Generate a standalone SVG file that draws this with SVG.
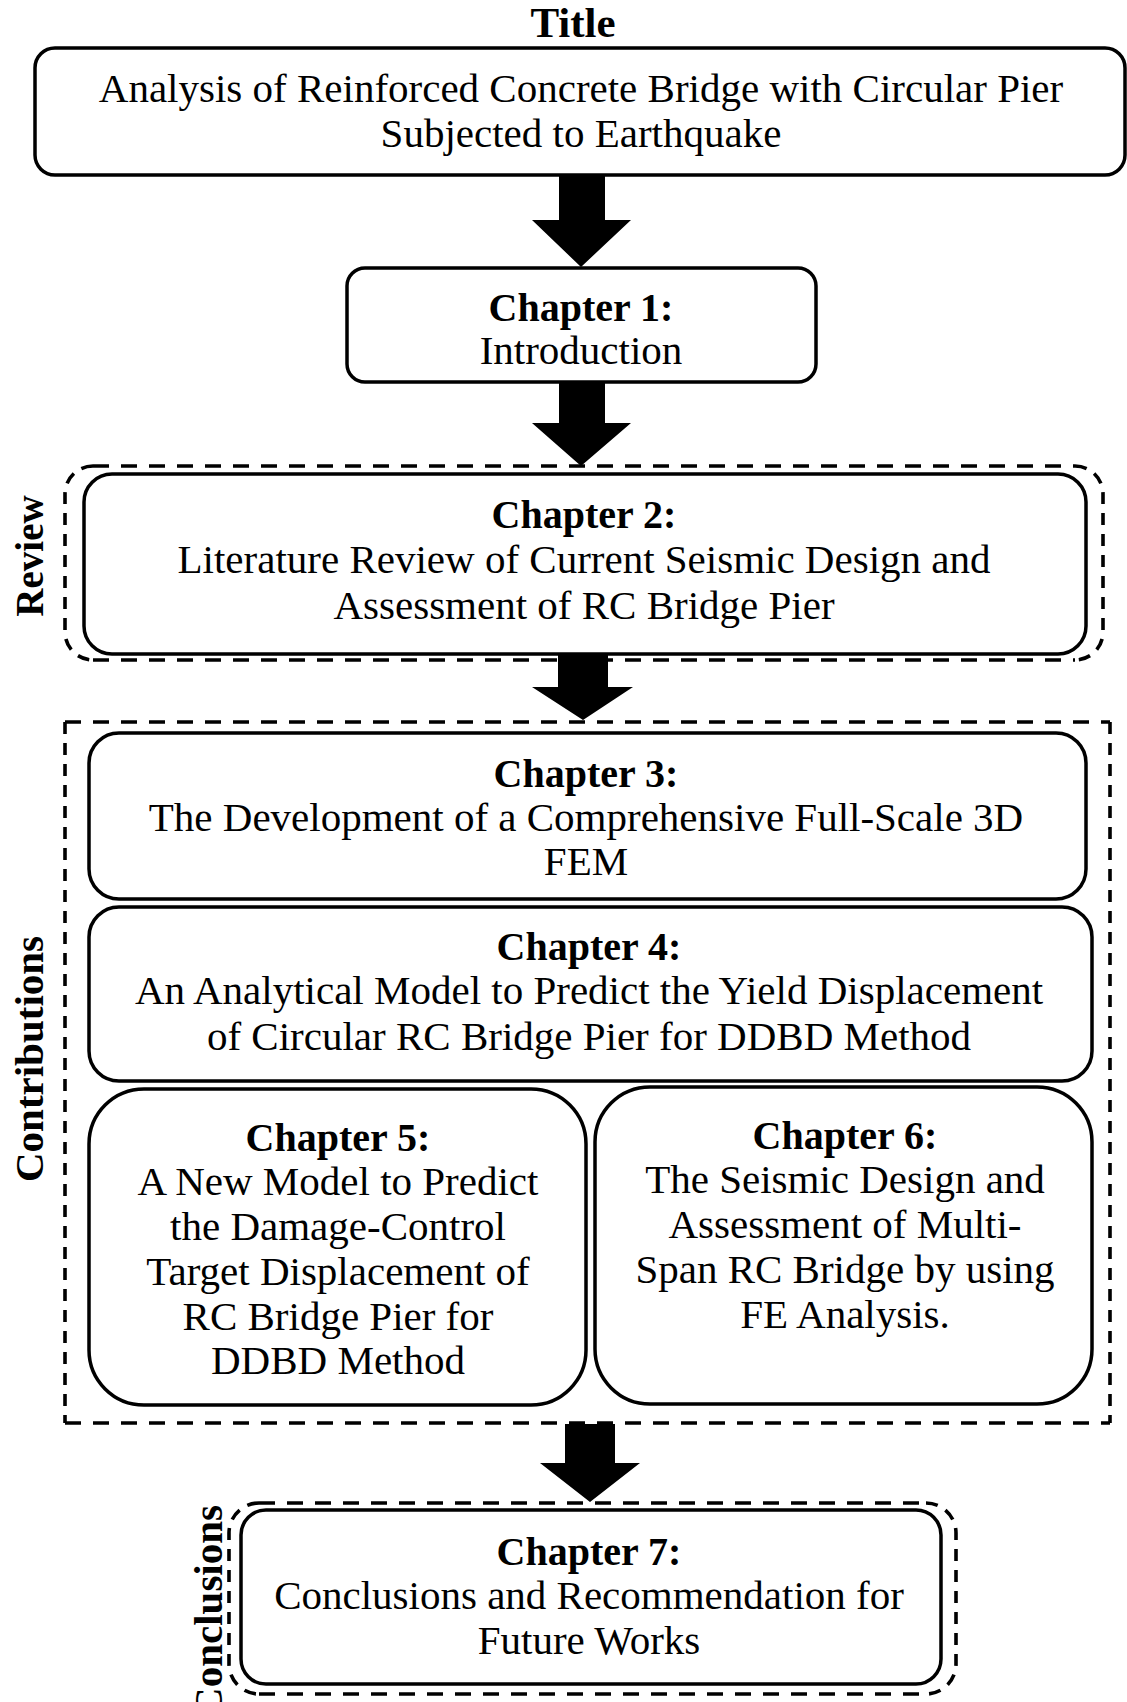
<svg xmlns="http://www.w3.org/2000/svg" width="1127" height="1702" viewBox="0 0 1127 1702">
<style>
.box{fill:#fff;stroke:#000;stroke-width:3.5}
.dh{fill:none;stroke:#000;stroke-width:3.6;stroke-dasharray:16 12}
.dv{fill:none;stroke:#000;stroke-width:3.6;stroke-dasharray:12 9}
.t{font-family:"Liberation Serif","Times New Roman",serif;font-size:41px;fill:#000;text-anchor:middle}
.b{font-family:"Liberation Serif","Times New Roman",serif;font-size:40px;font-weight:bold;fill:#000;text-anchor:middle}
.lab{font-family:"Liberation Serif","Times New Roman",serif;font-size:41px;font-weight:bold;fill:#000}
.arr{fill:#000}
</style>
<rect width="1127" height="1702" fill="#fff"/>

<g id="connectors">
<polygon class="arr" points="559,174 605,174 605,220 631,220 581,267 532,220 559,220"/>
<polygon class="arr" points="559,382 605,382 605,423 631,423 581,466 532,423 559,423"/>
<polygon class="arr" points="558,655 608,655 608,687 633,687 583,720 532,687 558,687"/>
<polygon class="arr" points="565,1424 615,1424 615,1463 640,1463 590,1502 540,1463 565,1463"/>
</g>

<g id="title">
<text class="b" x="573" y="37" style="font-size:43px">Title</text>
</g>

<g id="title-box">
<rect class="box" x="35" y="48" width="1090" height="127" rx="20"/>
<text class="t" x="581" y="102">Analysis of Reinforced Concrete Bridge with Circular Pier</text>
<text class="t" x="581" y="147">Subjected to Earthquake</text>
</g>

<g id="chapter1">
<rect class="box" x="347" y="268" width="469" height="114" rx="18"/>
<text class="b" x="581" y="321">Chapter 1:</text>
<text class="t" x="581" y="364">Introduction</text>
</g>

<g id="review-group">
<path class="dh" d="M93,466 H1075 M93,660 H1075"/>
<path class="dv" d="M93,466 A28,28 0 0 0 65,494 V632 A28,28 0 0 0 93,660 M1075,466 A28,28 0 0 1 1103,494 V632 A28,28 0 0 1 1075,660"/>
<text class="lab" transform="translate(43,556) rotate(-90)" text-anchor="middle" style="font-size:39px">Review</text>
</g>

<g id="chapter2">
<rect class="box" x="84" y="474" width="1002" height="180" rx="28"/>
<text class="b" x="584" y="528">Chapter 2:</text>
<text class="t" x="584" y="573">Literature Review of Current Seismic Design and</text>
<text class="t" x="584" y="619">Assessment of RC Bridge Pier</text>
</g>

<g id="contributions-group">
<path class="dh" d="M65,722 H1110 M65,1423 H1110"/>
<path class="dv" d="M65,722 V1423 M1110,722 V1423"/>
<text class="lab" transform="translate(43,1059) rotate(-90)" text-anchor="middle">Contributions</text>
</g>

<g id="chapter3">
<rect class="box" x="89" y="733" width="997" height="166" rx="30"/>
<text class="b" x="586" y="787">Chapter 3:</text>
<text class="t" x="586" y="831">The Development of a Comprehensive Full-Scale 3D</text>
<text class="t" x="586" y="875">FEM</text>
</g>

<g id="chapter4">
<rect class="box" x="89" y="907" width="1003" height="174" rx="30"/>
<text class="b" x="589" y="960">Chapter 4:</text>
<text class="t" x="589" y="1004">An Analytical Model to Predict the Yield Displacement</text>
<text class="t" x="589" y="1050">of Circular RC Bridge Pier for DDBD Method</text>
</g>

<g id="chapter5">
<rect class="box" x="89" y="1089" width="497" height="316" rx="55"/>
<text class="b" x="338" y="1151">Chapter 5:</text>
<text class="t" x="338" y="1195">A New Model to Predict</text>
<text class="t" x="338" y="1240">the Damage-Control</text>
<text class="t" x="338" y="1285">Target Displacement of</text>
<text class="t" x="338" y="1330">RC Bridge Pier for</text>
<text class="t" x="338" y="1374">DDBD Method</text>
</g>

<g id="chapter6">
<rect class="box" x="595" y="1087" width="497" height="317" rx="55"/>
<text class="b" x="845" y="1149">Chapter 6:</text>
<text class="t" x="845" y="1193">The Seismic Design and</text>
<text class="t" x="845" y="1238">Assessment of Multi-</text>
<text class="t" x="845" y="1283">Span RC Bridge by using</text>
<text class="t" x="845" y="1328">FE Analysis.</text>
</g>

<g id="conclusions-group">
<path class="dh" d="M259,1503 H926 M259,1694 H926"/>
<path class="dv" d="M259,1503 A30,30 0 0 0 229,1533 V1664 A30,30 0 0 0 259,1694 M926,1503 A30,30 0 0 1 956,1533 V1664 A30,30 0 0 1 926,1694"/>
<text class="lab" transform="translate(222,1505) rotate(-90)" text-anchor="end">Conclusions</text>
</g>

<g id="chapter7">
<rect class="box" x="241" y="1510" width="700" height="174" rx="25"/>
<text class="b" x="589" y="1565">Chapter 7:</text>
<text class="t" x="589" y="1609">Conclusions and Recommendation for</text>
<text class="t" x="589" y="1654">Future Works</text>
</g>
</svg>
